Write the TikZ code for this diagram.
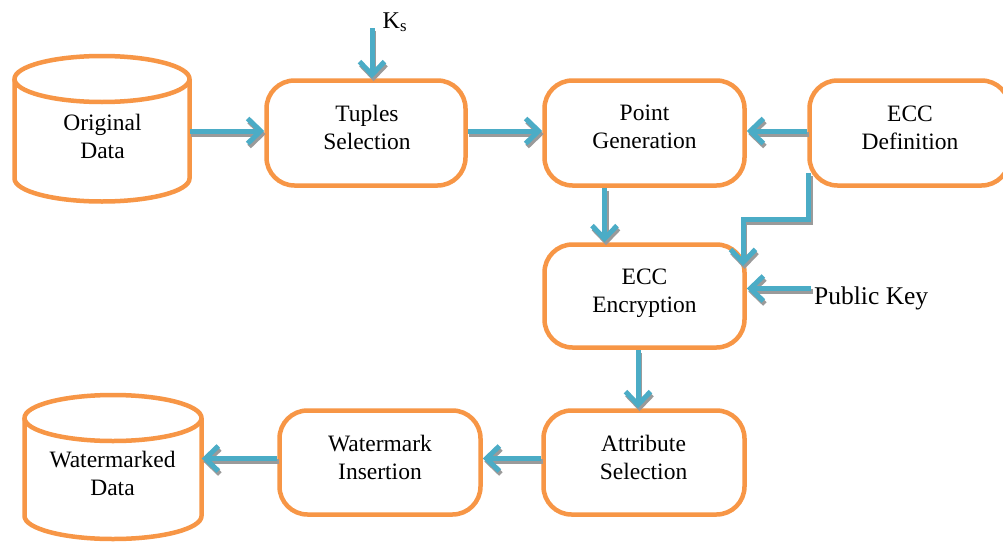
\documentclass[tikz,border=0pt]{standalone}
\usepackage{fontspec}
\setmainfont{Liberation Serif}
\usetikzlibrary{arrows.meta}
\definecolor{boxorange}{HTML}{F79646}
\definecolor{arrowblue}{HTML}{4BACC6}
\definecolor{shadowgray}{HTML}{9A9A9A}
\tikzset{
  proc/.style={draw=boxorange, line width=4.5pt, rounded corners=28pt, fill=white,
    minimum width=200pt, minimum height=105pt, inner sep=0pt},
  txt/.style={align=center, inner sep=0pt, font=\fontsize{23.5}{28}\selectfont},
  cylbody/.style={inner sep=0pt, draw=none},
  cyl/.style={draw=boxorange, line width=4.5pt},
  arr/.style={draw=arrowblue, line width=5pt,
    -{Straight Barb[length=13pt,width=25pt]},
    preaction={draw=shadowgray, line width=5pt, -{Straight Barb[length=13pt,width=25pt]},
      transform canvas={shift={(1.5pt,-3pt)}}}},
  elbow/.style={arr, line join=miter},
  lbl/.style={inner sep=0pt, anchor=base west}
}
\begin{document}
\begin{tikzpicture}[x=1pt,y=-1pt]
\clip (0,0) rectangle (1003,541);
\fill[white] (0,0) rectangle (1003,541);

% cylinders
\draw[cyl] (102,79) ellipse [x radius=87.5, y radius=23];
\draw[cyl] (14.5,79) -- (14.5,178.5) arc[start angle=180, end angle=0, x radius=87.5, y radius=23] -- (189.5,79);
\node[cylbody, minimum width=175pt, minimum height=120pt] (orig) at (102,140) {};
\node[txt] (origT) at (102.5,136.5) {Original\\Data};

\draw[cyl] (113,418) ellipse [x radius=88.5, y radius=23];
\draw[cyl] (24.5,418) -- (24.5,516) arc[start angle=180, end angle=0, x radius=88.5, y radius=23] -- (201.5,418);
\node[cylbody, minimum width=177pt, minimum height=120pt] (wm) at (113,478) {};
\node[txt] (wmT) at (112.5,473) {Watermarked\\Data};

% process boxes
\node[proc, minimum width=199pt] (tuples) at (366,133) {};
\node[txt] (tuplesT) at (367,127) {Tuples\\Selection};

\node[proc] (point) at (644.5,133) {};
\node[txt] (pointT) at (644.5,127) {Point\\Generation};

\node[proc] (ecc) at (909.5,133) {};
\node[txt] (eccT) at (910,128) {ECC\\Definition};

\node[proc, minimum height=103pt] (enc) at (644.5,296) {};
\node[txt] (encT) at (644.5,293) {ECC\\Encryption};

\node[proc, minimum width=201pt, minimum height=104pt] (attr) at (644,462.5) {};
\node[txt] (attrT) at (643.5,457) {Attribute\\Selection};

\node[proc, minimum width=201pt, minimum height=104pt] (wins) at (380,462.5) {};
\node[txt] (winsT) at (380,457) {Watermark\\Insertion};

% labels
\node[lbl, font=\fontsize{24}{28}\selectfont] (ks) at (382.5,28) {K\textsubscript{s}};
\node[lbl, font=\fontsize{25.5}{30}\selectfont] (pk) at (814,304) {Public Key};

% coordinates for free ends
\coordinate (ksfrom) at (372,28);
\coordinate (pkfrom) at (811,288.5);
\coordinate (e1) at (808.5,173);
\coordinate (e2) at (808.5,219);
\coordinate (e3) at (743,219);
\coordinate (e4) at (743,266);

% connectors
\draw[arr] ([yshift=2pt]tuples.west -| orig.east) -- ([yshift=2pt]tuples.west);
\draw[arr] ([yshift=2pt]tuples.east) -- ([yshift=2pt]point.west);
\draw[arr] (ksfrom) -- (ksfrom |- tuples.north);
\draw[arr] ([yshift=2pt]ecc.west) -- ([yshift=2pt]point.east);
\draw[arr] ([xshift=-40pt]point.south) -- ([xshift=-40pt]point.south |- enc.north);
\draw[elbow] (e1) -- (e2) -- (e3) -- (e4);
\draw[arr] (pkfrom) -- (pkfrom -| enc.east);
\draw[arr] ([xshift=-6.5pt]enc.south) -- ([xshift=-6.5pt]enc.south |- attr.north);
\draw[arr] ([yshift=4pt]attr.west) -- ([yshift=4pt]wins.east);
\draw[arr] ([yshift=4pt]wins.west) -- ([yshift=4pt]wins.west -| wm.east);
\end{tikzpicture}
\end{document}
